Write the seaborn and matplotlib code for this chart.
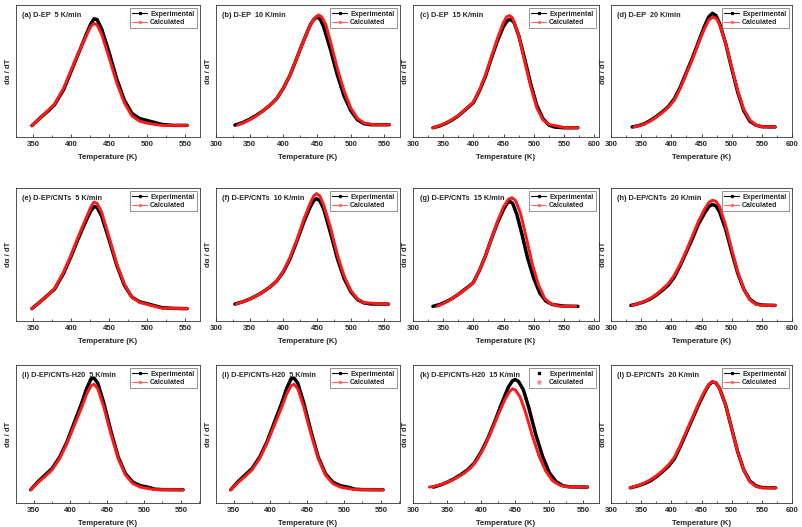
import matplotlib
matplotlib.use("Agg")
import matplotlib.pyplot as plt
import pandas as pd
import seaborn as sns
from matplotlib.lines import Line2D
from matplotlib.ticker import MultipleLocator

# (T in K, dα/dT in arbitrary units)
a_exp = [(348, 0.086), (360, 0.15), (370, 0.20), (378, 0.245), (390, 0.36), (400, 0.50), (410, 0.64), (420, 0.78),
         (426, 0.86), (430, 0.895), (434, 0.89), (440, 0.82), (450, 0.64), (460, 0.44), (470, 0.28), (480, 0.18),
         (490, 0.14), (500, 0.125), (510, 0.11), (520, 0.095), (535, 0.088), (553, 0.088)]
a_calc = [(348, 0.086), (360, 0.15), (370, 0.205), (378, 0.25), (390, 0.37), (400, 0.51), (410, 0.645), (420, 0.77),
          (426, 0.84), (430, 0.86), (434, 0.85), (440, 0.78), (450, 0.60), (460, 0.41), (470, 0.26), (480, 0.16),
          (490, 0.12), (500, 0.105), (510, 0.095), (520, 0.088), (553, 0.088)]

b_exp = [(328, 0.09), (340, 0.11), (350, 0.135), (360, 0.165), (370, 0.20), (380, 0.24), (390, 0.29), (400, 0.37),
         (410, 0.47), (420, 0.60), (430, 0.73), (440, 0.85), (445, 0.89), (450, 0.91), (455, 0.89), (460, 0.83),
         (470, 0.66), (480, 0.47), (490, 0.31), (500, 0.20), (510, 0.13), (520, 0.10), (530, 0.093), (557, 0.093)]
b_calc = [(332, 0.09), (340, 0.105), (350, 0.13), (360, 0.16), (370, 0.20), (380, 0.24), (390, 0.29), (400, 0.37),
          (410, 0.47), (420, 0.60), (430, 0.73), (440, 0.85), (447, 0.905), (452, 0.925), (457, 0.91), (463, 0.85),
          (470, 0.72), (480, 0.52), (490, 0.35), (500, 0.22), (510, 0.14), (520, 0.105), (535, 0.093), (557, 0.093)]

c_exp = [(333, 0.07), (345, 0.085), (355, 0.105), (365, 0.13), (375, 0.16), (385, 0.20), (395, 0.24), (400, 0.26),
         (410, 0.35), (420, 0.46), (430, 0.60), (440, 0.73), (450, 0.84), (457, 0.885), (462, 0.89), (467, 0.87),
         (475, 0.77), (485, 0.59), (495, 0.40), (505, 0.24), (515, 0.14), (525, 0.09), (535, 0.075), (550, 0.07),
         (573, 0.07)]
c_calc = [(333, 0.07), (345, 0.088), (355, 0.108), (365, 0.133), (375, 0.163), (385, 0.203), (395, 0.245),
          (400, 0.265), (410, 0.355), (420, 0.47), (430, 0.61), (440, 0.75), (450, 0.87), (455, 0.91), (460, 0.92),
          (465, 0.90), (475, 0.77), (485, 0.57), (495, 0.38), (505, 0.22), (515, 0.13), (525, 0.095), (537, 0.085),
          (550, 0.072), (573, 0.07)]

d_exp = [(335, 0.076), (345, 0.085), (355, 0.10), (365, 0.125), (375, 0.155), (385, 0.19), (395, 0.23), (405, 0.29),
         (415, 0.38), (425, 0.49), (435, 0.60), (445, 0.72), (455, 0.84), (462, 0.91), (468, 0.937), (474, 0.92),
         (480, 0.86), (490, 0.71), (500, 0.52), (510, 0.34), (520, 0.20), (530, 0.12), (540, 0.09), (550, 0.078),
         (572, 0.076)]
d_calc = [(338, 0.076), (345, 0.083), (355, 0.097), (365, 0.12), (375, 0.15), (385, 0.185), (395, 0.225),
          (405, 0.28), (415, 0.37), (425, 0.48), (435, 0.59), (445, 0.71), (455, 0.82), (462, 0.885), (469, 0.91),
          (475, 0.895), (480, 0.85), (490, 0.71), (500, 0.53), (510, 0.35), (520, 0.21), (530, 0.13), (540, 0.09),
          (550, 0.078), (572, 0.076)]

e_exp = [(348, 0.093), (360, 0.15), (370, 0.20), (378, 0.24), (390, 0.36), (400, 0.49), (410, 0.63), (420, 0.76),
         (426, 0.83), (430, 0.86), (434, 0.855), (440, 0.79), (450, 0.61), (460, 0.42), (470, 0.27), (480, 0.18),
         (490, 0.145), (500, 0.13), (510, 0.115), (520, 0.10), (535, 0.095), (553, 0.093)]
e_calc = [(348, 0.093), (360, 0.15), (370, 0.20), (378, 0.245), (390, 0.37), (400, 0.50), (410, 0.645), (420, 0.78),
          (426, 0.86), (430, 0.894), (434, 0.885), (440, 0.82), (450, 0.63), (460, 0.43), (470, 0.28), (480, 0.18),
          (490, 0.14), (500, 0.125), (510, 0.11), (520, 0.097), (553, 0.093)]

f_exp = [(328, 0.127), (340, 0.145), (350, 0.165), (360, 0.19), (370, 0.22), (380, 0.255), (390, 0.30), (400, 0.37),
         (410, 0.47), (420, 0.60), (430, 0.74), (440, 0.86), (445, 0.905), (449, 0.92), (454, 0.905), (460, 0.84),
         (470, 0.66), (480, 0.47), (490, 0.32), (500, 0.22), (510, 0.16), (520, 0.135), (530, 0.128), (556, 0.127)]
f_calc = [(330, 0.127), (340, 0.145), (350, 0.165), (360, 0.19), (370, 0.22), (380, 0.255), (390, 0.30),
          (400, 0.375), (410, 0.48), (420, 0.61), (430, 0.76), (440, 0.89), (445, 0.94), (449, 0.958), (454, 0.94),
          (460, 0.87), (470, 0.70), (480, 0.50), (490, 0.34), (500, 0.23), (510, 0.165), (520, 0.137), (556, 0.127)]

g_exp = [(333, 0.11), (345, 0.125), (355, 0.145), (365, 0.17), (375, 0.20), (385, 0.235), (395, 0.27), (400, 0.29),
         (410, 0.38), (420, 0.49), (430, 0.62), (440, 0.74), (450, 0.84), (456, 0.885), (460, 0.90), (465, 0.885),
         (472, 0.80), (480, 0.66), (490, 0.47), (500, 0.32), (510, 0.21), (520, 0.15), (530, 0.125), (537, 0.12),
         (550, 0.112), (573, 0.11)]
g_calc = [(340, 0.11), (350, 0.13), (360, 0.155), (370, 0.185), (380, 0.215), (390, 0.25), (400, 0.29), (410, 0.38),
          (420, 0.49), (430, 0.62), (440, 0.75), (450, 0.86), (458, 0.915), (464, 0.927), (470, 0.905), (478, 0.81),
          (488, 0.62), (498, 0.42), (508, 0.27), (518, 0.17), (528, 0.13), (540, 0.113), (550, 0.11), (570, 0.11)]

h_exp = [(333, 0.117), (345, 0.13), (355, 0.145), (365, 0.165), (375, 0.195), (385, 0.23), (395, 0.27), (405, 0.33),
         (415, 0.42), (425, 0.52), (435, 0.62), (445, 0.73), (455, 0.81), (462, 0.86), (468, 0.876), (474, 0.865),
         (480, 0.82), (490, 0.69), (500, 0.52), (510, 0.36), (520, 0.24), (530, 0.165), (540, 0.13), (550, 0.12),
         (572, 0.117)]
h_calc = [(335, 0.117), (345, 0.13), (355, 0.148), (365, 0.17), (375, 0.20), (385, 0.24), (395, 0.28), (405, 0.345),
          (415, 0.43), (425, 0.53), (435, 0.64), (445, 0.75), (455, 0.84), (462, 0.89), (468, 0.908), (474, 0.90),
          (480, 0.86), (490, 0.72), (500, 0.54), (510, 0.37), (520, 0.24), (530, 0.16), (540, 0.125), (550, 0.118),
          (572, 0.117)]

i_exp = [(346, 0.096), (355, 0.15), (365, 0.20), (375, 0.25), (385, 0.33), (395, 0.44), (405, 0.58), (415, 0.72),
         (422, 0.83), (428, 0.90), (432, 0.905), (437, 0.87), (445, 0.73), (455, 0.52), (465, 0.33), (475, 0.21),
         (485, 0.15), (495, 0.125), (505, 0.115), (515, 0.10), (525, 0.097), (553, 0.096)]
i_calc = [(346, 0.096), (355, 0.145), (365, 0.19), (375, 0.24), (385, 0.32), (395, 0.43), (405, 0.56), (415, 0.69),
          (422, 0.79), (428, 0.85), (432, 0.86), (437, 0.83), (445, 0.70), (455, 0.50), (465, 0.32), (475, 0.20),
          (485, 0.14), (495, 0.115), (505, 0.105), (515, 0.097), (553, 0.096)]

k_exp = [(330, 0.115), (340, 0.13), (350, 0.15), (360, 0.175), (370, 0.205), (380, 0.24), (390, 0.29), (400, 0.37),
         (410, 0.47), (420, 0.59), (430, 0.72), (440, 0.84), (446, 0.885), (450, 0.895), (455, 0.88), (462, 0.82),
         (470, 0.69), (480, 0.50), (490, 0.34), (500, 0.22), (510, 0.155), (520, 0.125), (530, 0.117), (556, 0.115)]
k_calc = [(324, 0.115), (335, 0.125), (345, 0.14), (355, 0.16), (365, 0.185), (375, 0.215), (385, 0.255),
          (395, 0.32), (405, 0.41), (415, 0.52), (425, 0.64), (435, 0.75), (442, 0.81), (446, 0.827), (450, 0.82),
          (457, 0.77), (465, 0.66), (475, 0.49), (485, 0.34), (495, 0.23), (505, 0.16), (515, 0.13), (525, 0.118),
          (556, 0.115)]

l_exp = [(332, 0.11), (345, 0.125), (355, 0.14), (365, 0.16), (375, 0.19), (385, 0.225), (395, 0.265), (405, 0.32),
         (415, 0.41), (425, 0.51), (435, 0.61), (445, 0.71), (455, 0.80), (462, 0.855), (468, 0.878), (474, 0.87),
         (480, 0.83), (490, 0.71), (500, 0.54), (510, 0.37), (520, 0.24), (530, 0.16), (540, 0.125), (550, 0.112),
         (573, 0.11)]
l_calc = [(332, 0.11), (345, 0.128), (355, 0.145), (365, 0.167), (375, 0.197), (385, 0.233), (395, 0.275),
          (405, 0.33), (415, 0.42), (425, 0.52), (435, 0.62), (445, 0.72), (455, 0.81), (462, 0.86), (468, 0.88),
          (474, 0.87), (480, 0.83), (490, 0.71), (500, 0.54), (510, 0.37), (520, 0.24), (530, 0.155), (540, 0.12),
          (550, 0.11), (573, 0.11)]

titles = ["(a) D-EP  5 K/min", "(b) D-EP  10 K/min", "(c) D-EP  15 K/min", "(d) D-EP  20 K/min",
          "(e) D-EP/CNTs  5 K/min", "(f) D-EP/CNTs  10 K/min", "(g) D-EP/CNTs  15 K/min",
          "(h) D-EP/CNTs  20 K/min", "(i) D-EP/CNTs-H20  5 K/min", "(i) D-EP/CNTs-H20  5 K/min",
          "(k) D-EP/CNTs-H20  15 K/min", "(l) D-EP/CNTs  20 K/min"]
series = [(a_exp, a_calc), (b_exp, b_calc), (c_exp, c_calc), (d_exp, d_calc),
          (e_exp, e_calc), (f_exp, f_calc), (g_exp, g_calc), (h_exp, h_calc),
          (i_exp, i_calc), (i_exp, i_calc), (k_exp, k_calc), (l_exp, l_calc)]
xlims = [(327, 570), (300, 573), (300, 608), (300, 600),
         (327, 570), (300, 573), (300, 608), (300, 600),
         (326, 576), (326, 576), (300, 573), (300, 600)]
xticks_short = list(range(350, 551, 50))
xticks_mid = list(range(300, 551, 50))
xticks_long = list(range(300, 601, 50))
xticks = [xticks_short, xticks_mid, xticks_long, xticks_long,
          xticks_short, xticks_mid, xticks_long, xticks_long,
          xticks_short, xticks_short, xticks_mid, xticks_long]

sns.set_style("ticks")
plt.rcParams["font.family"] = ["Liberation Sans", "DejaVu Sans"]
plt.rcParams["font.weight"] = "bold"

fig = plt.figure(figsize=(8.03, 5.27), dpi=100)
W, H = 803, 527
col_px = [(16, 200), (216, 400), (413, 599), (611, 792)]
row_px = [(5, 137), (188, 321), (365, 503)]

for n in range(12):
    r, c = divmod(n, 4)
    x0, x1 = col_px[c]
    y0, y1 = row_px[r]
    ax = fig.add_axes([x0 / W, 1 - y1 / H, (x1 - x0) / W, (y1 - y0) / H])
    exp, calc = series[n]
    df_e = pd.DataFrame(exp, columns=["T", "v"])
    df_c = pd.DataFrame(calc, columns=["T", "v"])
    sns.lineplot(data=df_e, x="T", y="v", ax=ax, color="black", lw=2.5, sort=False)
    sns.lineplot(data=df_c, x="T", y="v", ax=ax, color="#ff1a1a", lw=2.1, sort=False)
    ax.set_xlim(*xlims[n])
    ax.set_ylim(0, 1)
    ax.set_xticks(xticks[n])
    ax.xaxis.set_minor_locator(MultipleLocator(25))
    ax.set_yticks([])
    ax.tick_params(axis="x", which="major", direction="in", length=2.5, width=0.6, labelsize=5.6, pad=3)
    ax.tick_params(axis="x", which="minor", direction="in", length=1.5, width=0.5)
    for lab in ax.get_xticklabels():
        lab.set_fontweight("bold")
    for s in ax.spines.values():
        s.set_linewidth(0.6)
        s.set_color("#333333")
    ax.set_xlabel("Temperature (K)", fontsize=5.6, fontweight="bold", labelpad=4)
    ax.set_ylabel("dα / dT", fontsize=5.6, fontweight="bold", labelpad=3)
    ax.text(0.035, 0.95, titles[n], transform=ax.transAxes, fontsize=5.3, fontweight="bold", va="top", ha="left")
    if n == 10:
        handles = [Line2D([], [], ls="none", marker="s", ms=2, color="black"),
                   Line2D([], [], ls="none", marker="*", ms=3, color="#ff8c8c")]
    else:
        handles = [Line2D([], [], color="black", lw=0.8, marker="o", ms=1.5),
                   Line2D([], [], color="#ff6666", lw=0.8, marker="o", ms=1.5, mfc="#ffb0b0")]
    leg = ax.legend(handles, ["Experimental", "Calculated"], loc="upper right", fontsize=5, frameon=True,
                    fancybox=False, borderpad=0.3, handlelength=2.2, handletextpad=0.4, labelspacing=0.2,
                    borderaxespad=0.5)
    leg.get_frame().set_edgecolor("#444444")
    leg.get_frame().set_linewidth(0.5)

fig.savefig("out.png", dpi=100)
